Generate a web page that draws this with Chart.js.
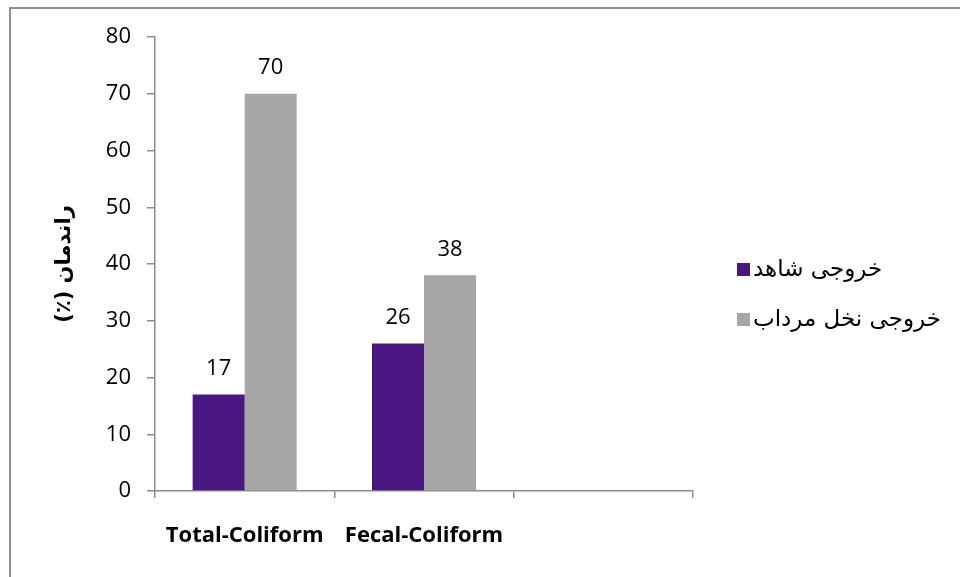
<!DOCTYPE html>
<html>
<head>
<meta charset="utf-8">
<script src="https://cdn.jsdelivr.net/npm/chart.js@4.4.1/dist/chart.umd.min.js"></script>
<style>
html,body{margin:0;padding:0;background:#fff;}
canvas{display:block;}
</style>
</head>
<body>
<canvas id="c" width="960" height="577" dir="rtl"></canvas>
<script>
const categories = ['Total-Coliform', 'Fecal-Coliform', ''];
const seriesNames = ['خروجی شاهد', 'خروجی نخل مرداب'];
const controlValues = [17, 26, null];
const palmValues = [70, 38, null];
const yTicks = [0, 10, 20, 30, 40, 50, 60, 70, 80];
const yTitle = 'راندمان (٪)';

const purple = '#4a1680';
const gray = '#a6a6a6';
const axisGray = '#8c8c8c';

const framePlugin = {
  id: 'frame',
  beforeDraw(chart) {
    const ctx = chart.ctx;
    ctx.save();
    ctx.fillStyle = '#fff';
    ctx.fillRect(0, 0, chart.width, chart.height);
    ctx.strokeStyle = '#8f8f8f';
    ctx.lineWidth = 2;
    ctx.strokeRect(10, 8, 980, 600);
    ctx.restore();
  }
};

const labelPlugin = {
  id: 'valueLabels',
  afterDatasetsDraw(chart) {
    const ctx = chart.ctx;
    ctx.save();
    ctx.fillStyle = '#000';
    ctx.font = '22px "Open Sans", sans-serif';
    ctx.textAlign = 'center';
    ctx.textBaseline = 'middle';
    chart.data.datasets.forEach((ds, i) => {
      const meta = chart.getDatasetMeta(i);
      meta.data.forEach((el, j) => {
        const v = ds.data[j];
        if (v === null || v === undefined) return;
        ctx.fillText(String(v), el.x, el.y - 26);
      });
    });
    ctx.restore();
  }
};

const legendPlugin = {
  id: 'sideLegend',
  afterDraw(chart) {
    const ctx = chart.ctx;
    ctx.save();
    ctx.font = '23px "DejaVu Sans", sans-serif';
    ctx.textBaseline = 'middle';
    ctx.textAlign = 'left';
    chart.data.datasets.forEach((ds, i) => {
      const y = 270 + i * 50;
      ctx.fillStyle = ds.backgroundColor;
      ctx.fillRect(737, y - 7, 13, 13);
      ctx.fillStyle = '#000';
      ctx.fillText(ds.label, 753, y);
    });
    ctx.restore();
  }
};

new Chart(document.getElementById('c'), {
  type: 'bar',
  data: {
    labels: categories,
    datasets: [
      { label: seriesNames[0], data: controlValues, backgroundColor: purple, borderWidth: 0 },
      { label: seriesNames[1], data: palmValues, backgroundColor: gray, borderWidth: 0 }
    ]
  },
  options: {
    responsive: false,
    animation: false,
    devicePixelRatio: 1,
    layout: { padding: { top: 37, right: 267, bottom: 0, left: 0 } },
    datasets: { bar: { categoryPercentage: 0.58, barPercentage: 1.0 } },
    plugins: { legend: { display: false }, tooltip: { enabled: false } },
    scales: {
      x: {
        offset: true,
        grid: { display: true, offset: true, drawOnChartArea: false, drawTicks: true, tickLength: 7, color: axisGray, lineWidth: 1.5 },
        border: { display: true, color: axisGray, width: 1.5 },
        ticks: { color: '#000', font: { family: '"Open Sans", sans-serif', size: 22, weight: 'bold' }, padding: 25, maxRotation: 0, autoSkip: false },
        afterFit(scale) { scale.height = 86; }
      },
      y: {
        min: 0, max: 80,
        afterBuildTicks(scale) { scale.ticks = yTicks.map(v => ({ value: v })); },
        grid: { display: true, drawOnChartArea: false, drawTicks: true, tickLength: 8, color: axisGray, lineWidth: 1.5 },
        border: { display: true, color: axisGray, width: 1.5 },
        ticks: { color: '#000', font: { family: '"Open Sans", sans-serif', size: 22 }, padding: 16 },
        title: { display: true, text: yTitle, color: '#000', font: { family: '"DejaVu Sans", sans-serif', size: 21, weight: 'bold' }, padding: { top: 52, bottom: 0 } },
        afterFit(scale) { scale.width = 155; }
      }
    }
  },
  plugins: [framePlugin, labelPlugin, legendPlugin]
});
</script>
</body>
</html>
